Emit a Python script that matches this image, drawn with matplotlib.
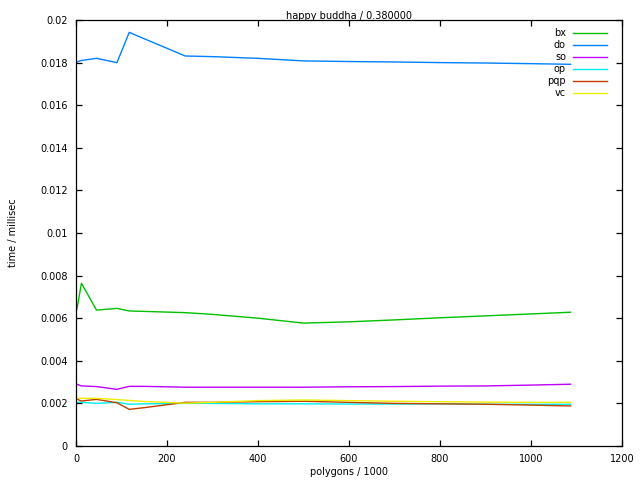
import matplotlib
matplotlib.use('Agg')
import matplotlib.pyplot as plt

##-----     DATA     -----
polys = [2, 12, 45, 90, 117, 150, 240, 300, 400, 500, 600, 700, 800, 900, 1000, 1087]

bx  = [0.00642, 0.00764, 0.00638, 0.00646, 0.00634, 0.00632, 0.00626, 0.00618,
       0.00600, 0.00577, 0.00583, 0.00592, 0.00602, 0.00611, 0.00620, 0.00628]
do  = [0.01803, 0.01810, 0.01820, 0.01800, 0.01942, 0.01912, 0.01831, 0.01828,
       0.01820, 0.01808, 0.01805, 0.01803, 0.01800, 0.01798, 0.01795, 0.01792]
so  = [0.00290, 0.00282, 0.00279, 0.00266, 0.00280, 0.00280, 0.00276, 0.00276,
       0.00276, 0.00276, 0.00278, 0.00279, 0.00281, 0.00282, 0.00286, 0.00290]
op  = [0.00205, 0.00205, 0.00200, 0.00205, 0.00196, 0.00198, 0.00200, 0.00200,
       0.00198, 0.00198, 0.00197, 0.00197, 0.00198, 0.00196, 0.00196, 0.00196]
pqp = [0.00220, 0.00211, 0.00219, 0.00203, 0.00172, 0.00180, 0.00205, 0.00205,
       0.00208, 0.00210, 0.00205, 0.00200, 0.00198, 0.00196, 0.00192, 0.00188]
vc  = [0.00224, 0.00224, 0.00224, 0.00218, 0.00214, 0.00209, 0.00201, 0.00205,
       0.00213, 0.00216, 0.00213, 0.00210, 0.00208, 0.00206, 0.00205, 0.00205]

names  = ['bx', 'do', 'so', 'op', 'pqp', 'vc']
series = [bx, do, so, op, pqp, vc]
colors = ['#00c000', '#0080ff', '#c000ff', '#00eeee', '#c04000', '#eeee00']

x_ticks = [0, 200, 400, 600, 800, 1000, 1200]
y_ticks = [0, 0.002, 0.004, 0.006, 0.008, 0.01, 0.012, 0.014, 0.016, 0.018, 0.02]
y_tick_labels = ['0', '0.002', '0.004', '0.006', '0.008', '0.01', '0.012',
                 '0.014', '0.016', '0.018', '0.02']

##-----     PLOT     -----
plt.rcParams['font.family'] = 'DejaVu Sans'
plt.rcParams['font.size'] = 7

fig = plt.figure(figsize=(6.4, 4.8), dpi=100)
ax = fig.add_axes([76/640, 34/480, 546/640, 426/480])

lw = 1.0
for ys, c in zip(series, colors):
    ax.plot(polys, ys, color=c, lw=lw)

ax.set_xlim(0, 1200)
ax.set_ylim(0, 0.02)
ax.set_xticks(x_ticks)
ax.set_yticks(y_ticks)
ax.set_yticklabels(y_tick_labels)
ax.tick_params(direction='in', length=4, width=0.9, top=True, right=True,
               pad=6, labelsize=7)
for s in ax.spines.values():
    s.set_linewidth(0.9)

ax.set_title('happy buddha / 0.380000', fontsize=7, pad=1)
ax.set_xlabel('polygons / 1000', fontsize=7, labelpad=2)
ax.set_ylabel('time / millisec', fontsize=7, labelpad=16)

# legend, gnuplot style: label right-aligned then a line sample
for i, (n, c) in enumerate(zip(names, colors)):
    yy = 1 - (12.5 + 12 * i) / 426
    ax.text((566 - 76) / 546, yy, n, transform=ax.transAxes,
            ha='right', va='center', fontsize=7)
    ax.plot([(573 - 76) / 546, (607 - 76) / 546], [yy, yy], color=c, lw=lw,
            transform=ax.transAxes, clip_on=False)

fig.savefig('out.png', dpi=100)
